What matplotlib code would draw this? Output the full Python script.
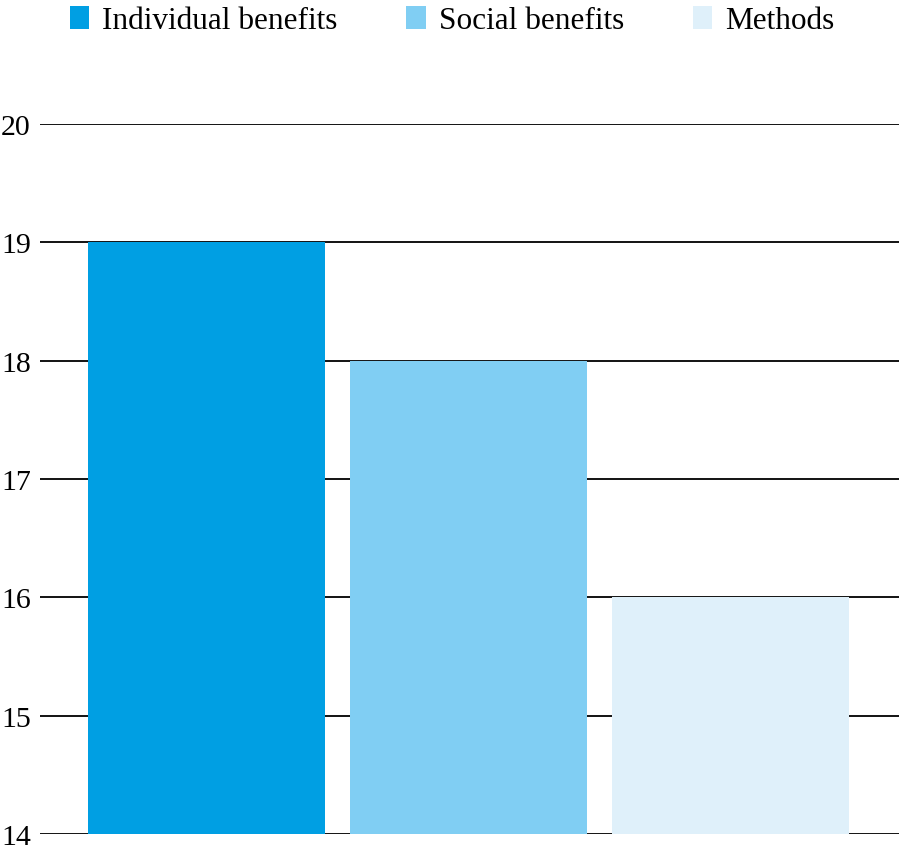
import matplotlib.pyplot as plt
from matplotlib.patches import Patch

plt.rcParams['font.family'] = ['Liberation Serif', 'DejaVu Serif']

series = ["Individual benefits", "Social benefits", "Methods"]
values = [19, 18, 16]
colors = ["#009fe3", "#80cef3", "#dff0fa"]
yticks = [14, 15, 16, 17, 18, 19, 20]

fig = plt.figure(figsize=(8.99, 8.53), dpi=100)
ax = fig.add_axes([0.0445, 0.0211, 0.9555, 0.8324])

for i, (name, v, c) in enumerate(zip(series, values, colors)):
    ax.bar(i, v - 14, bottom=14, width=0.905, color=c, label=name, zorder=2)

ax.set_ylim(14, 20)
ax.set_xlim(-0.636, 2.643)
ax.set_yticks(yticks)
ax.set_xticks([])
ax.yaxis.grid(True, color="black", linewidth=1.3, zorder=0)
ax.set_axisbelow(True)
for s in ax.spines.values():
    s.set_visible(False)
ax.tick_params(axis="y", length=0, pad=6.5, labelsize=21.5)

handles = [Patch(facecolor=c, edgecolor="none") for c in colors]
fig.legend(handles, series, loc="upper center", bbox_to_anchor=(0.503, 1.025), ncol=3,
           frameon=False, fontsize=22.5, handlelength=0.62, handleheight=0.75,
           handletextpad=0.42, columnspacing=2.2)

fig.savefig("out.png", dpi=100)
